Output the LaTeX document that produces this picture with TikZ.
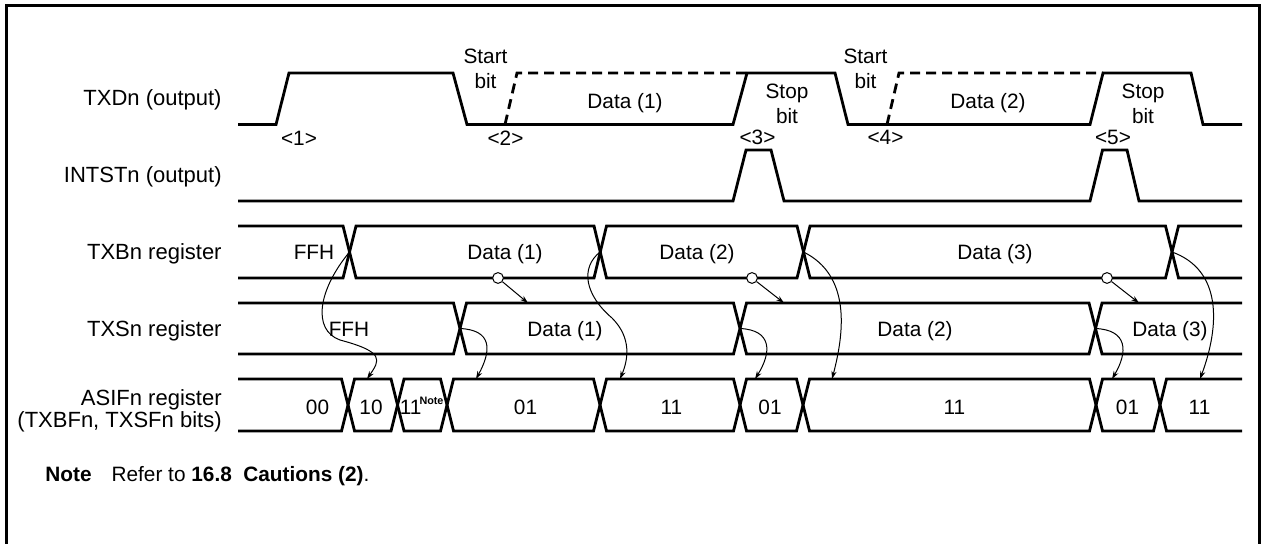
\documentclass[tikz,border=0pt]{standalone}
\usepackage{fontspec}
\setmainfont{Liberation Sans}
\usetikzlibrary{arrows.meta}

\begin{document}
\begin{tikzpicture}[
    x=0.5pt, y=-0.5pt,
    >={Stealth[length=4pt,width=2.6pt]},
    wave/.style={line width=1.4pt},
    frame/.style={line width=1.5pt},
    link/.style={->, line width=0.5pt},
    rowlbl/.style={anchor=east, inner sep=0pt, font=\fontsize{11}{9.5}\selectfont, text height=7.9pt, text depth=0pt},
    txt/.style={inner sep=0pt, font=\fontsize{10.4}{13}\selectfont, text height=7.4pt, text depth=0pt},
    twoline/.style={inner sep=0pt, align=center, font=\fontsize{10.4}{12.8}\selectfont},
    dot/.style={draw, circle, fill=white, line width=0.5pt, minimum size=5.4pt, inner sep=0pt}
]
\useasboundingbox (0,0) rectangle (1261,544);
\draw[frame] (6.5,545) -- (6.5,6) -- (1259,6) -- (1259,545);

\node[rowlbl] (ltxd) at (222,98) {TXDn (output)};
\node[rowlbl] (lint) at (222,175) {INTSTn (output)};
\node[rowlbl] (ltxb) at (222,252) {TXBn register};
\node[rowlbl] (ltxs) at (222,328.5) {TXSn register};
\node[rowlbl, align=right, text height=, text depth=] (lasif) at (222,411) {ASIFn register\\(TXBFn, TXSFn bits)};

\draw[wave] (238,124.5) -- (276,124.5) -- (289,73) -- (453,73) -- (467,124.5) -- (733,124.5) -- (747,73) -- (835,73) -- (848,124.5) -- (1090,124.5) -- (1103,73) -- (1191,73) -- (1203,124.5) -- (1242,124.5);
\draw[wave, dash pattern=on 5pt off 3pt] (505,124.5) -- (517,73) -- (747,73);
\draw[wave, dash pattern=on 5pt off 3pt] (887,124.5) -- (899,73) -- (1103,73);

\node[twoline] (start1) at (485.5,69) {Start\\bit};
\node[twoline] (start2) at (865.5,69) {Start\\bit};
\node[twoline] (stop1) at (787,104) {Stop\\bit};
\node[twoline] (stop2) at (1143,104) {Stop\\bit};
\node[txt] (dat1) at (625,101) {Data (1)};
\node[txt] (dat2) at (988,101) {Data (2)};

\node[txt] (m1) at (299,138) {<1>};
\node[txt] (m2) at (505.5,138) {<2>};
\node[txt] (m3) at (757.5,137) {<3>};
\node[txt] (m4) at (885.5,137) {<4>};
\node[txt] (m5) at (1113,137) {<5>};

\draw[wave] (238,201) -- (733,201) -- (746,150) -- (771,150) -- (784,201) -- (1090,201) -- (1102.5,150) -- (1127,150) -- (1139,201) -- (1242,201);

\draw[wave] (238,226) -- (343,226) -- (356,278) -- (594,278) -- (606.5,226) -- (797,226) -- (810,278) -- (1165.5,278) -- (1178.5,226) -- (1242,226);
\draw[wave] (238,278) -- (343,278) -- (356,226) -- (594,226) -- (606.5,278) -- (797,278) -- (810,226) -- (1165.5,226) -- (1178.5,278) -- (1242,278);
\node[txt] (b0) at (314,252) {FFH};
\node[txt] (b1) at (505,252) {Data (1)};
\node[txt] (b2) at (697,252) {Data (2)};
\node[txt] (b3) at (995,252) {Data (3)};

\draw[wave] (238,303) -- (453.5,303) -- (466.5,354) -- (733.5,354) -- (746.5,303) -- (1089,303) -- (1102,354) -- (1242,354);
\draw[wave] (238,354) -- (453.5,354) -- (466.5,303) -- (733.5,303) -- (746.5,354) -- (1089,354) -- (1102,303) -- (1242,303);
\node[txt] (s0) at (349,329) {FFH};
\node[txt] (s1) at (565,329) {Data (1)};
\node[txt] (s2) at (915,329) {Data (2)};
\node[txt] (s3) at (1170,329) {Data (3)};

\draw[wave] (238,379) -- (341.5,379) -- (354.5,431) -- (391,431) -- (404,379) -- (440.5,379) -- (453.5,431) -- (593.5,431) -- (606.5,379) -- (733.5,379) -- (746.5,431) -- (796.5,431) -- (809.5,379) -- (1089.5,379) -- (1102.5,431) -- (1153.5,431) -- (1166.5,379) -- (1242,379);
\draw[wave] (238,431) -- (341.5,431) -- (354.5,379) -- (391,379) -- (404,431) -- (440.5,431) -- (453.5,379) -- (593.5,379) -- (606.5,431) -- (733.5,431) -- (746.5,379) -- (796.5,379) -- (809.5,431) -- (1089.5,431) -- (1102.5,379) -- (1153.5,379) -- (1166.5,431) -- (1242,431);
\node[txt] (a0) at (317.5,407) {00};
\node[txt] (a1) at (371,407) {10};
\node[txt, anchor=base west, text height=, text depth=] (a2) at (399.5,414.4) {11\hspace{-1pt}\raisebox{5pt}{\fontsize{5.4}{6}\selectfont\bfseries Note}};
\node[txt] (a3) at (525.5,407) {01};
\node[txt] (a4) at (671.5,407) {11};
\node[txt] (a5) at (770,407) {01};
\node[txt] (a6) at (954.5,407) {11};
\node[txt] (a7) at (1127.5,407) {01};
\node[txt] (a8) at (1199.5,407) {11};

\node[dot] (o1) at (498,278) {};
\node[dot] (o2) at (752,278) {};
\node[dot] (o3) at (1107,278) {};
\coordinate (t1) at (528,303);
\coordinate (t2) at (784,303);
\coordinate (t3) at (1139,303);
\draw[link] (o1) -- (t1);
\draw[link] (o2) -- (t2);
\draw[link] (o3) -- (t3);

\coordinate (xb1) at (349.5,252);
\coordinate (xb2) at (600,252);
\coordinate (xb3) at (803.5,252);
\coordinate (xb4) at (1172,252);
\coordinate (xs1) at (460,328.5);
\coordinate (xs2) at (740,328.5);
\coordinate (xs3) at (1095.5,328.5);
\coordinate (f1) at (367,379);
\coordinate (f2) at (476,379);
\coordinate (f3) at (620,379);
\coordinate (f4) at (755,379);
\coordinate (f5) at (832,379);
\coordinate (f6) at (1112,379);
\coordinate (f7) at (1200,379);

\draw[link] (xb1) .. controls (318,290) and (312,330) .. (340,340) .. controls (385,352) and (380,360) .. (f1);
\draw[link] (xs1) .. controls (492,330) and (492,350) .. (f2);
\draw[link] (xb2) .. controls (580,268) and (585,295) .. (612,318) .. controls (632,338) and (628,360) .. (f3);
\draw[link] (xs2) .. controls (772,330) and (772,352) .. (f4);
\draw[link] (xb3) .. controls (850,275) and (845,330) .. (f5);
\draw[link] (xs3) .. controls (1128,330) and (1128,352) .. (f6);
\draw[link] (xb4) .. controls (1222,270) and (1220,325) .. (f7);

\node[anchor=base west, inner sep=0pt, font=\fontsize{10.4}{13}\selectfont] (note) at (45,481) {\textbf{Note}\hspace{10pt}Refer to \textbf{16.8\ \ Cautions (2)}.};
\end{tikzpicture}
\end{document}
